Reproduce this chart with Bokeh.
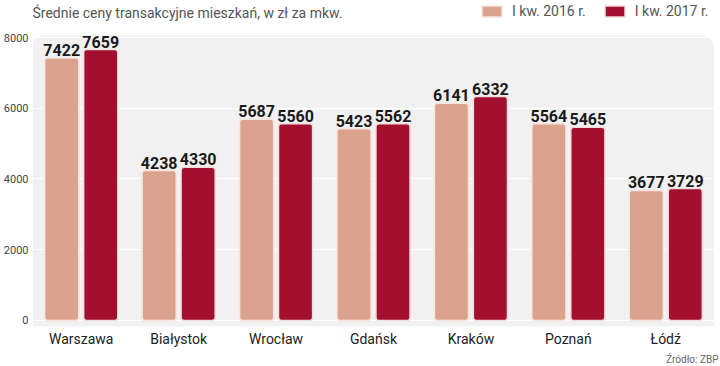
from bokeh.plotting import figure
from bokeh.models import (ColumnDataSource, FactorRange, Range1d, FixedTicker,
                          BoxAnnotation, Title, Legend, Label)
from bokeh.transform import dodge
from bokeh.core.properties import value
from bokeh.embed import file_html
from bokeh.resources import INLINE

cities = ["Warszawa", "Białystok", "Wrocław", "Gdańsk", "Kraków", "Poznań", "Łódź"]
prices_2016 = [7422, 4238, 5687, 5423, 6141, 5564, 3677]
prices_2017 = [7659, 4330, 5560, 5562, 6332, 5465, 3729]
series_names = ["I kw. 2016 r.", "I kw. 2017 r."]
y_ticks = [0, 2000, 4000, 6000, 8000]

title_text = "Średnie ceny transakcyjne mieszkań, w zł za mkw."
source_text = "Źródło: ZBP"

col_2016 = "#dba38e"
col_2017 = "#a30f2e"

src16 = ColumnDataSource(dict(city=cities, v=prices_2016, lbl=[str(v) for v in prices_2016]))
src17 = ColumnDataSource(dict(city=cities, v=prices_2017, lbl=[str(v) for v in prices_2017]))

# frame reaches the top of the canvas so the title and legend can live inside it
p = figure(width=720, height=366, output_backend="svg", toolbar_location=None,
           x_range=FactorRange(factors=cities), y_range=Range1d(-170, 9046),
           min_border_left=32, min_border_right=6, min_border_top=0, min_border_bottom=40,
           background_fill_color="white", border_fill_color="white", outline_line_color=None)

bg = BoxAnnotation(top=8057, fill_color="#f1f1f1", fill_alpha=1, line_color=None, level="image",
                   border_radius=dict(top_left=10, top_right=14, bottom_right=0, bottom_left=0))
p.add_layout(bg)

r16 = p.vbar(x=dodge("city", -0.2, range=p.x_range), top="v", bottom=0, width=0.35, source=src16,
             fill_color=col_2016, line_color="#f6e4de", line_width=1.5, border_radius=3)
r17 = p.vbar(x=dodge("city", 0.2, range=p.x_range), top="v", bottom=0, width=0.35, source=src17,
             fill_color=col_2017, line_color="#f3dcdc", line_width=1.5, border_radius=3)

for s, off in ((src16, -0.2), (src17, 0.2)):
    p.text(x=dodge("city", off, range=p.x_range), y="v", text="lbl", source=s,
           text_font=value("Roboto"), text_font_style="bold", text_font_size="16px",
           text_color="#1a1a1a", text_align="center", text_baseline="bottom", y_offset=-2)

# grid
p.xgrid.grid_line_color = None
p.ygrid.grid_line_color = "white"
p.ygrid.grid_line_width = 1
p.ygrid.ticker = FixedTicker(ticks=y_ticks)

# axes
p.yaxis.ticker = FixedTicker(ticks=y_ticks)
p.yaxis.axis_line_color = None
p.yaxis.major_tick_line_color = None
p.yaxis.minor_tick_line_color = None
p.yaxis.major_tick_out = 0
p.yaxis.major_tick_in = 0
p.yaxis.minor_tick_out = 0
p.yaxis.major_label_text_font = "Roboto"
p.yaxis.major_label_text_font_size = "11px"
p.yaxis.major_label_text_color = "#444444"
p.yaxis.major_label_standoff = 4

p.xaxis.axis_line_color = None
p.xaxis.major_tick_line_color = None
p.xaxis.major_tick_out = 0
p.xaxis.major_tick_in = 0
p.xaxis.major_label_text_font = "Roboto"
p.xaxis.major_label_text_font_size = "14px"
p.xaxis.major_label_text_color = "#222222"
p.xaxis.major_label_standoff = 4

# chart title (inside the frame, above the grey plot area)
p.add_layout(Label(x=0, y=314, x_units="screen", y_units="screen", text=title_text,
                   text_font="Roboto", text_font_size="14px", text_color="#555555",
                   text_align="left", text_baseline="middle"))

# source below
p.add_layout(Title(text=source_text, align="right", text_font="Roboto", text_font_size="10px",
                   text_font_style="normal", text_color="#666666", standoff=4, offset=-4), "below")

legend = Legend(items=[(series_names[0], [r16]), (series_names[1], [r17])],
                orientation="horizontal", location=(447, 307),
                glyph_width=25, glyph_height=14, label_height=14, label_standoff=8, spacing=16,
                padding=0, margin=0, border_line_color=None, background_fill_alpha=0,
                label_text_font="Roboto", label_text_font_size="14px", label_text_color="#555555",
                label_text_baseline="middle")
p.add_layout(legend, "center")

open("out.html", "w").write(file_html(p, INLINE))
